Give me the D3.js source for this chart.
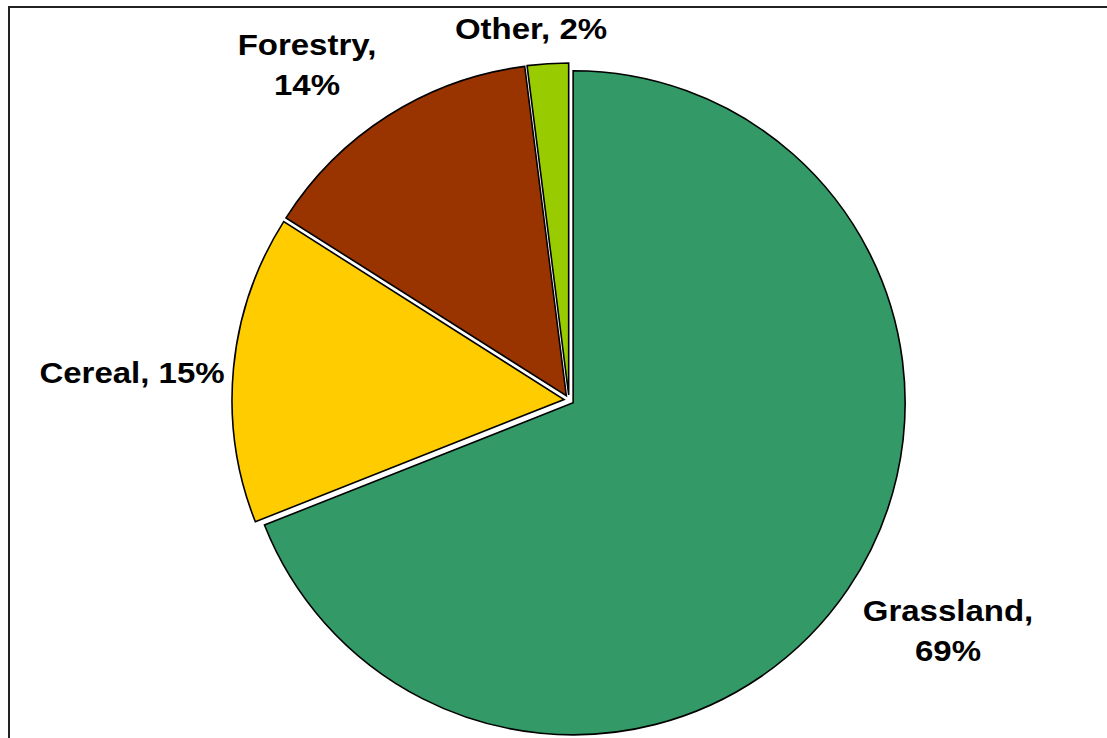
<!DOCTYPE html>
<html>
<head>
<meta charset="utf-8">
<script src="https://cdn.jsdelivr.net/npm/d3@7"></script>
<style>
  html, body { margin: 0; padding: 0; background: #fff; }
  svg { display: block; }
</style>
</head>
<body>
<svg id="chart" width="1107" height="738"></svg>
<script>
const categories = ["Grassland", "Cereal", "Forestry", "Other"];
const values = [69, 15, 14, 2];
const colors = ["#339966", "#FFCC00", "#993300", "#99CC00"];
const labelLines = [["Grassland,", "69%"], ["Cereal, 15%"], ["Forestry,", "14%"], ["Other, 2%"]];

const svg = d3.select("#chart");

// frame
svg.append("rect")
  .attr("x", 9).attr("y", 7)
  .attr("width", 1200).attr("height", 800)
  .attr("fill", "none").attr("stroke", "#222").attr("stroke-width", 2);

const cx = 569, cy = 400, R = 332, explode = 5;
const data = categories.map((c, i) => ({ name: c, value: values[i], color: colors[i], lines: labelLines[i] }));
const pie = d3.pie().sort(null).value(d => d.value);
const arcs = pie(data);
const arc = d3.arc().innerRadius(0).outerRadius(R);

const g = svg.append("g").attr("transform", `translate(${cx},${cy})`);
g.selectAll("path").data(arcs).enter().append("path")
  .attr("d", arc)
  .attr("transform", d => {
    const a = (d.startAngle + d.endAngle) / 2;
    return `translate(${explode * Math.sin(a)},${-explode * Math.cos(a)})`;
  })
  .attr("fill", d => d.data.color)
  .attr("stroke", "#000").attr("stroke-width", 1.6).attr("stroke-linejoin", "miter");

// label anchor positions (center x, first baseline y)
const labelPos = {
  "Grassland": [948, 621],
  "Cereal": [132, 383],
  "Forestry": [307, 55],
  "Other": [531, 39]
};
const sx = 1.1;
const lab = svg.append("g")
  .attr("font-family", "'Liberation Sans', Arial, sans-serif")
  .attr("font-weight", "bold").attr("font-size", 30).attr("fill", "#000");
data.forEach(d => {
  const [x, y] = labelPos[d.name];
  const t = lab.append("text")
    .attr("transform", `translate(${x},${y}) scale(${sx},1)`)
    .attr("text-anchor", "middle");
  d.lines.forEach((ln, i) => {
    t.append("tspan").attr("x", 0).attr("dy", i === 0 ? 0 : 40).text(ln);
  });
});
</script>
</body>
</html>
